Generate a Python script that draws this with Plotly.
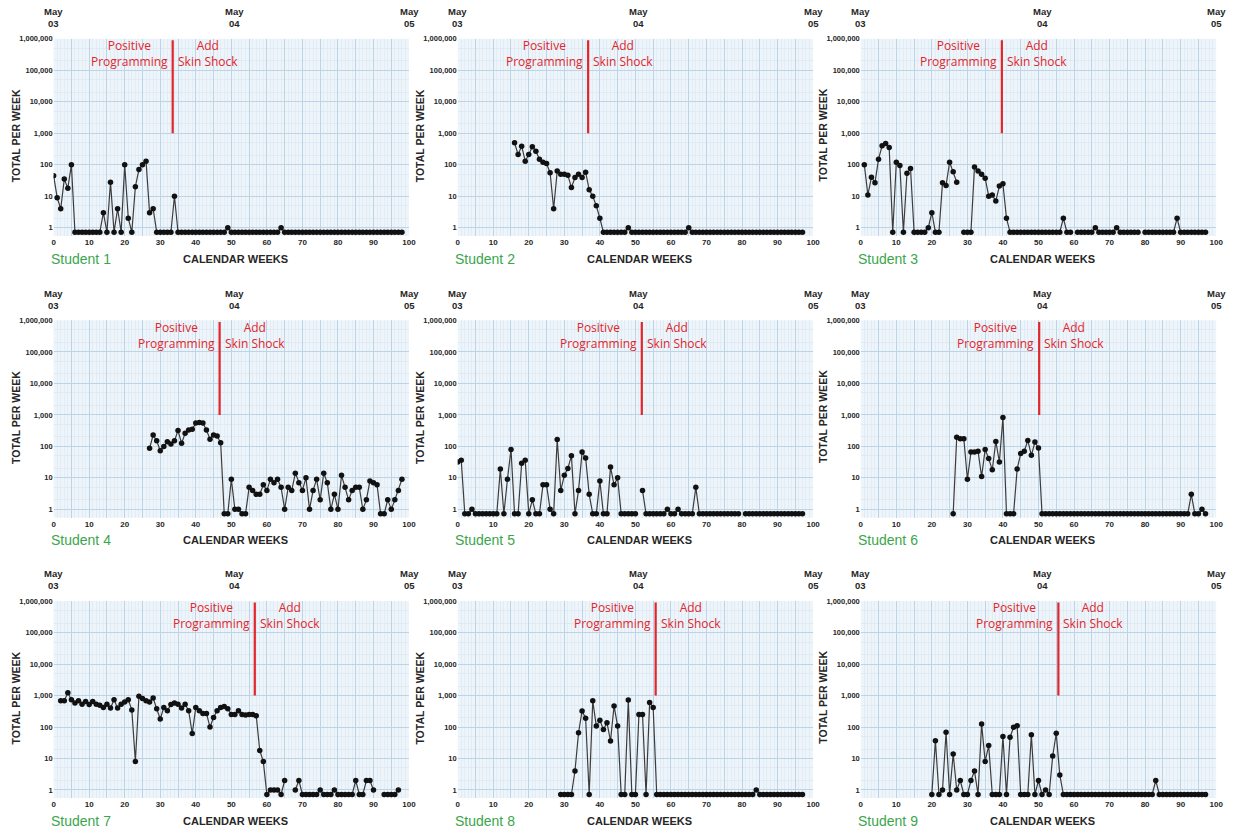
import math
import plotly.graph_objects as go

W, H = 1248, 833

# ---------------------------------------------------------------- data
# Weekly totals per student, one value per calendar week starting at the
# given week; 0 = no occurrences that week, None = no record for that week.
student_names = ["Student 1", "Student 2", "Student 3",
                 "Student 4", "Student 5", "Student 6",
                 "Student 7", "Student 8", "Student 9"]

start_weeks = [0, 16, 1, 27, 0, 26, 2, 29, 20]

# week at which skin shock was added to positive programming
phase_change_weeks = [33.5, 36.7, 39.7, 46.7, 51.8, 50.2, 56.6, 55.7, 55.6]

s1_counts = [45, 9, 4, 35, 18, 100, 0, 0, 0, 0, 0, 0, 0, 0, 3, 0, 28, 0, 4, 0,
             100, 2, 0, 20, 70, 100, 130, 3, 4, 0, 0, 0, 0, 0, 10,
             0, 0, 0, 0, 0, 0, 0, 0, 0, 0, 0, 0, 0, 0, 1,
             0, 0, 0, 0, 0, 0, 0, 0, 0, 0, 0, 0, 0, 0, 1,
             0, 0, 0, 0, 0, 0, 0, 0, 0, 0, 0, 0, 0, 0, 0, 0, 0,
             0, 0, 0, 0, 0, 0, 0, 0, 0, 0, 0, 0, 0, 0, 0, 0, 0]

s2_counts = [500, 210, 390, 130, 210, 370, 270, 150, 120, 110, 56, 4, 63, 50,
             50, 46, 19, 39, 50, 39, 58, 16, 10, 5, 2,
             0, 0, 0, 0, 0, 0, 0, 1,
             0, 0, 0, 0, 0, 0, 0, 0, 0, 0, 0, 0, 0, 0, 0, 0, 1,
             0, 0, 0, 0, 0, 0, 0, 0, 0, 0, 0, 0, 0, 0, 0, 0,
             0, 0, 0, 0, 0, 0, 0, 0, 0, 0, 0, 0, 0, 0, 0, 0]

s3_counts = [100, 11, 40, 27, 150, 400, 470, 350, 0, 120, 95, 0, 54, 76,
             0, 0, 0, 0, 1, 3, 0, 0, 27, 22, 120, 60, 28, None, 0, 0, 0,
             85, 63, 50, 37, 10, 11, 7, 21, 25, 2,
             0, 0, 0, 0, 0, 0, 0, 0, 0, 0, 0, 0, 0, 0, 0, 2, 0, 0, None,
             0, 0, 0, 0, 0, 1, 0, 0, 0, 0, 0, 1, 0, 0, 0, 0, 0, 0, None,
             0, 0, 0, 0, 0, 0, 0, 0, 0, 2, 0, 0, 0, 0, 0, 0, 0, 0]

s4_counts = [87, 230, 150, 73, 100, 140, 120, 150, 320, 125, 260, 330, 350,
             550, 570, 550, 330, 170, 230, 215, 130,
             0, 0, 9, 1, 1, 0, 0, 5, 4, 3, 3, 6, 4, 9, 7, 9, 5, 1, 5, 4,
             14, 7, 4, 10, 1, 4, 9, 2, 14, 7, 1, 3, 1, 12, 5, 2, 4, 5, 5, 1,
             2, 8, 7, 6, 0, 0, 2, 1, 2, 4, 9]

s5_counts = [32, 36, 0, 0, 1, 0, 0, 0, 0, 0, 0, 0, 19, 0, 9, 80, 0, 0, 29, 36,
             0, 2, 0, 0, 6, 6, 1, 0, 165, 4, 12, 20, 50, 0, 4, 66, 43, 3, 0, 0,
             8, 0, 0, 22, 6, 10, 0, 0, 0, 0, 0, None, 4, 0, 0, 0, 0, 0, 0, 1,
             0, 0, 1, 0, 0, 0, 0, 5, 0, 0, 0, 0, 0, 0, 0, 0, 0, 0, 0, 0,
             None, 0, 0, 0, 0, 0, 0, 0, 0, 0, 0, 0, 0, 0, 0, 0, 0, 0]

s6_counts = [0, 195, 175, 175, 9, 66, 66, 70, 11, 80, 41, 18, 144, 32, 830,
             0, 0, 0, 19, 59, 70, 155, 52, 137, 89,
             0, 0, 0, 0, 0, 0, 0, 0, 0, 0, 0, 0, 0, 0, 0, 0, 0, 0, 0, 0, 0,
             0, 0, 0, 0, 0, 0, 0, 0, 0, 0, 0, 0, 0, 0, 0, 0, 0, 0, 0, 0, 0,
             3, 0, 0, 1, 0]

s7_counts = [690, 690, 1230, 740, 580, 690, 530, 650, 520, 650, 530, 490, 420,
             530, 400, 740, 400, 530, 620, 740, 350, 8, 950, 800, 690, 620,
             830, 380, 180, 420, 330, 520, 580, 530, 400, 530, 330, 62, 420,
             330, 270, 270, 100, 200, 330, 420, 450, 380, 250, 250, 330, 250,
             240, 250, 250, 230,
             18, 8, 0, 1, 1, 1, 0, 2, None, None, 1, 2, 0, 0, 0, 0, 0, 1,
             0, 0, 0, 1, 0, 0, 0, 0, 0, 2, 0, 0, 2, 2, 1, None, None,
             0, 0, 0, 0, 1]

s8_counts = [0, 0, 0, 0, 4, 66, 325, 190, 0, 680, 107, 165, 84, 137, 36, 470,
             107, 0, 0, 720, 0, 0, 250, 250, 0, 600, 420,
             0, 0, 0, 0, 0, 0, 0, 0, 0, 0, 0, 0, 0, 0, 0, 0, 0, 0, 0, 0, 0,
             0, 0, 0, 0, 0, 0, 0, 1, 0, 0, 0, 0, 0, 0, 0, 0, 0, 0, 0, 0, 0]

s9_counts = [0, 37, 0, 1, 68, 0, 14, 1, 2, 0, 0, 2, 4, 0, 126, 8, 26, 0, 0, 0,
             50, 0, 47, 98, 110, 0, 0, 0, 57, 0, 2, 0, 1, 0, 12, 63,
             3, 0, 0, 0, 0, 0, 0, 0, 0, 0, 0, 0, 0, 0, 0, 0, 0, 0, 0, 0, 0,
             0, 0, 0, 0, 0, 0, 2, 0, 0, 0, 0, 0, 0, 0, 0, 0, 0, 0, 0, 0, 0]

all_counts = [s1_counts, s2_counts, s3_counts, s4_counts, s5_counts,
              s6_counts, s7_counts, s8_counts, s9_counts]

week_ticks = [0, 5, 10, 15, 20, 25, 30, 35, 40, 45, 50,
              55, 60, 65, 70, 75, 80, 85, 90, 95, 100]
week_tick_labels = ["0", "", "10", "", "20", "", "30", "", "40", "", "50",
                    "", "60", "", "70", "", "80", "", "90", "", "100"]
count_ticks = [1, 10, 100, 1000, 10000, 100000, 1000000]
count_tick_labels = ["1", "10", "100", "1,000", "10,000", "100,000", "1,000,000"]
month_weeks = [0, 51, 100]
month_labels = ["May<br>03", "May<br>04", "May<br>05"]
phase_labels = ["Positive<br>Programming", "Add<br>Skin Shock"]

# ---------------------------------------------------------------- styling
ZERO_LEVEL = 0.72          # where zero weeks sit on the log scale
Y_MIN = 0.55
RED = "#e2262b"
GREEN = "#3aa64c"
INK = "#262626"
BOLD = "Liberation Sans"

col_px = [(52, 410), (459, 817), (865, 1223)]
row_px = [(35, 233), (318, 516), (600, 798)]

fig = go.Figure()
annotations = []

for i, name in enumerate(student_names):
    r, c = divmod(i, 3)
    left, right = col_px[c]
    top, bottom = row_px[r]
    ax = "" if i == 0 else str(i + 1)
    xa, ya = "x" + ax, "y" + ax

    fig.update_layout(**{
        "xaxis" + ax: dict(
            domain=[left / W, right / W], range=[0, 100], anchor=ya,
            tickmode="array", tickvals=week_ticks, ticktext=week_tick_labels,
            ticks="", showline=False, zeroline=False,
            showgrid=True, gridcolor="#bdd3e6", gridwidth=1,
            minor=dict(dtick=1, showgrid=True, gridcolor="#e1ecf5", gridwidth=1),
            tickfont=dict(family=BOLD, size=8, color=INK, weight="bold"),
        ),
        "yaxis" + ax: dict(
            domain=[1 - bottom / H, 1 - top / H], type="log",
            range=[math.log10(Y_MIN), 6], anchor=xa,
            tickmode="array", tickvals=count_ticks, ticktext=count_tick_labels,
            ticks="", showline=False, zeroline=False,
            showgrid=True, gridcolor="#bdd3e6", gridwidth=1,
            minor=dict(dtick="D2", showgrid=True, gridcolor="#dfeaf4", gridwidth=1),
            tickfont=dict(family=BOLD, size=7.5, color=INK, weight="bold"),
        ),
    })

    counts = all_counts[i]
    weeks = [start_weeks[i] + k for k in range(len(counts))]
    plotted = [None if v is None else (ZERO_LEVEL if v == 0 else v) for v in counts]

    fig.add_trace(go.Scatter(
        x=weeks, y=plotted, xaxis=xa, yaxis=ya, mode="lines+markers",
        line=dict(color="#3c3c3c", width=1.2),
        marker=dict(color="#111111", size=5.5),
        connectgaps=False, showlegend=False, hoverinfo="skip",
    ))

    # phase-change line
    p = phase_change_weeks[i]
    fig.add_trace(go.Scatter(
        x=[p, p], y=[1000, 900000], xaxis=xa, yaxis=ya, mode="lines",
        line=dict(color=RED, width=2.2), showlegend=False, hoverinfo="skip",
    ))

    label_y = 0.926
    annotations.append(dict(
        x=p, y=label_y, xref=xa, yref=ya + " domain", text=phase_labels[0],
        xanchor="right", yanchor="middle", xshift=-3, align="center",
        showarrow=False, font=dict(family="Open Sans", size=12, color=RED)))
    annotations.append(dict(
        x=p, y=label_y, xref=xa, yref=ya + " domain", text=phase_labels[1],
        xanchor="left", yanchor="middle", xshift=3, align="center",
        showarrow=False, font=dict(family="Open Sans", size=12, color=RED)))

    # calendar dates along the top
    for wk, lab in zip(month_weeks, month_labels):
        annotations.append(dict(
            x=wk, y=1 - (top - 8) / H, xref=xa, yref="paper", text=lab,
            xanchor="center", yanchor="bottom", align="center", showarrow=False,
            font=dict(family=BOLD, size=9.5, color=INK, weight="bold")))

    # axis titles and student name
    annotations.append(dict(
        x=(left - 38) / W, y=1 - (top + 97) / H, xref="paper", yref="paper",
        text="TOTAL PER WEEK", textangle=-90, showarrow=False,
        xanchor="center", yanchor="middle",
        font=dict(family=BOLD, size=10.5, color=INK, weight="bold")))
    annotations.append(dict(
        x=((left + right) / 2 + 4) / W, y=1 - (bottom + 23) / H,
        xref="paper", yref="paper", text="CALENDAR WEEKS", showarrow=False,
        xanchor="center", yanchor="middle",
        font=dict(family=BOLD, size=11, color=INK, weight="bold")))
    annotations.append(dict(
        x=(left - 5) / W, y=1 - (bottom + 23) / H, xref="paper", yref="paper",
        text=name, showarrow=False, xanchor="left", yanchor="middle",
        font=dict(family="Liberation Sans", size=14, color=GREEN)))

fig.update_layout(
    width=W, height=H,
    margin=dict(l=0, r=0, t=0, b=0),
    paper_bgcolor="white",
    plot_bgcolor="#edf4fa",
    annotations=annotations,
)

fig.write_html("out.html")
